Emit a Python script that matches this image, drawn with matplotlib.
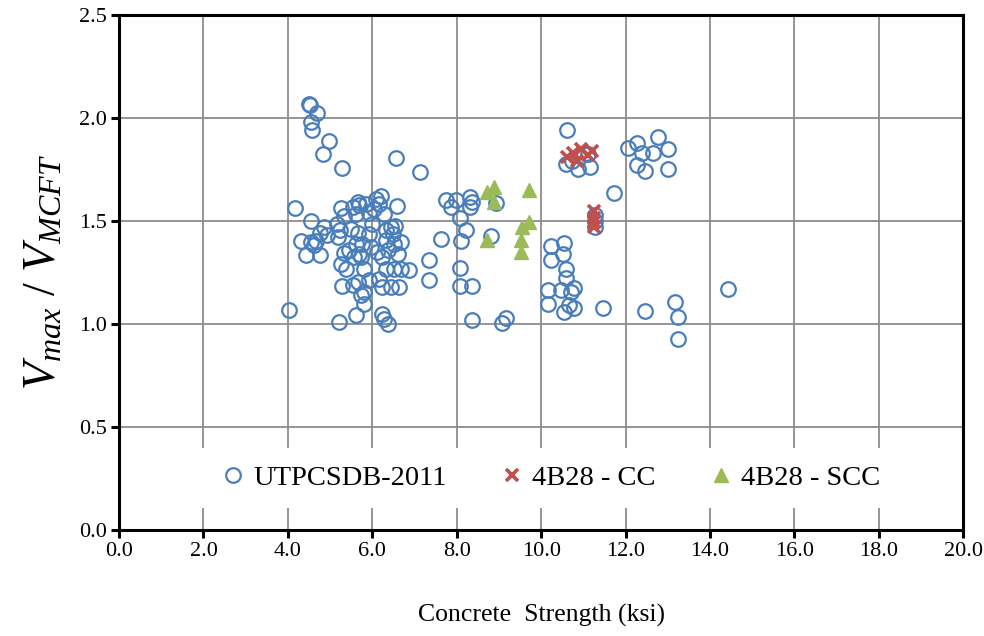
import matplotlib
matplotlib.use("Agg")
import matplotlib.pyplot as plt

plt.rcParams['font.family'] = ['Liberation Serif', 'DejaVu Serif']
plt.rcParams['mathtext.fontset'] = 'custom'
plt.rcParams['mathtext.rm'] = 'Liberation Serif'
plt.rcParams['mathtext.it'] = 'Liberation Serif:italic'

# UTPCSDB-2011 database (concrete strength ksi, Vmax/VMCFT)
utp_x = [4.02, 4.16, 4.32, 4.42, 4.54, 4.62, 4.66, 4.50, 4.53, 4.70, 4.54, 4.58,
         4.97, 4.83, 5.27, 6.57, 4.55, 4.85, 4.77, 4.93, 4.77, 5.25, 5.53, 5.33,
         5.17, 5.23, 5.49, 5.19, 5.33, 5.45, 5.57, 5.25, 5.37, 5.29, 5.53, 5.21,
         5.61, 5.65, 5.68, 5.84, 6.08, 6.20, 6.16, 6.03, 6.28, 6.58, 5.61, 5.92,
         5.98, 6.44, 6.53, 6.32, 5.65, 5.92, 6.48, 6.67, 6.32, 6.52, 5.61, 5.76,
         5.96, 6.12, 6.36, 5.68, 6.60, 6.24, 5.72, 5.80, 6.32, 6.52, 6.67, 6.87,
         5.65, 5.92, 6.16, 6.24, 6.44, 6.63, 5.80, 5.72, 5.80, 6.24, 6.28, 6.36,
         7.13, 7.35, 7.35, 7.62, 7.74, 7.86, 7.98, 8.32, 8.35, 8.32, 8.08, 8.22,
         8.10, 8.80, 8.93, 8.08, 8.08, 8.35, 8.35, 9.07, 9.17,
         10.24, 10.55, 10.52, 10.24, 10.58, 10.58, 10.17, 10.48, 10.78, 10.71,
         10.17, 10.55, 10.67, 10.78, 11.47, 12.45, 13.17, 13.25, 13.25, 14.43,
         11.27, 11.27, 11.27, 10.61, 12.06, 12.26, 12.39, 12.65, 12.76, 13.01,
         12.27, 12.45, 13.01, 11.72, 10.59, 10.87, 11.15, 11.12, 10.74]
utp_y = [1.065, 1.563, 1.401, 1.332, 1.396, 1.380, 1.401, 2.068, 2.060, 2.021, 1.977, 1.940,
         1.885, 1.824, 1.754, 1.803, 1.498, 1.469, 1.440, 1.429, 1.332, 1.563, 1.566, 1.521,
         1.485, 1.456, 1.461, 1.421, 1.343, 1.356, 1.324, 1.292, 1.267, 1.183, 1.186, 1.009,
         1.041, 1.590, 1.574, 1.582, 1.606, 1.622, 1.582, 1.558, 1.534, 1.569, 1.534, 1.537,
         1.485, 1.469, 1.472, 1.453, 1.440, 1.437, 1.437, 1.396, 1.404, 1.388, 1.388, 1.388,
         1.372, 1.348, 1.356, 1.340, 1.340, 1.324, 1.324, 1.267, 1.267, 1.267, 1.267, 1.259,
         1.202, 1.211, 1.219, 1.178, 1.178, 1.178, 1.154, 1.138, 1.098, 1.049, 1.025, 1.001,
         1.735, 1.307, 1.211, 1.409, 1.601, 1.566, 1.601, 1.614, 1.590, 1.566, 1.512, 1.456,
         1.400, 1.424, 1.585, 1.272, 1.182, 1.183, 1.020, 1.004, 1.030,
         1.375, 1.391, 1.340, 1.308, 1.267, 1.224, 1.166, 1.162, 1.173, 1.154,
         1.098, 1.057, 1.090, 1.074, 1.078, 1.061, 1.106, 1.033, 0.928, 1.170,
         1.469, 1.500, 1.530, 1.940, 1.853, 1.878, 1.827, 1.829, 1.905, 1.848,
         1.768, 1.743, 1.750, 1.633, 1.776, 1.752, 1.759, 1.826, 1.792]

# 4B28 - CC specimens
cc_x = [10.60, 10.75, 10.85, 10.95, 11.10, 11.20, 11.25, 11.25, 11.25, 11.25]
cc_y = [1.810, 1.830, 1.790, 1.850, 1.820, 1.840, 1.545, 1.515, 1.495, 1.470]

# 4B28 - SCC specimens
scc_x = [8.72, 8.89, 8.88, 9.71, 8.72, 9.71, 9.55, 9.52, 9.51]
scc_y = [1.638, 1.663, 1.590, 1.651, 1.408, 1.493, 1.469, 1.404, 1.348]

fig = plt.figure(figsize=(9.84, 6.36), dpi=100)
ax = fig.add_axes([0.121, 0.167, 0.858, 0.81])

ax.plot(utp_x, utp_y, 'o', ls='none', ms=10.5, mfc='none', mec='#4A7EBB', mew=1.6,
        label='UTPCSDB-2011', zorder=3)
ax.plot(cc_x, cc_y, 'x', ls='none', ms=9, mec='#C0504D', mew=2.6,
        label='4B28 - CC', zorder=4)
ax.plot(scc_x, scc_y, '^', ls='none', ms=10.5, mfc='#9BBB59', mec='#9BBB59',
        label='4B28 - SCC', zorder=4)

ax.set_xlim(0, 20)
ax.set_ylim(0, 2.5)
ax.set_xticks([i * 2.0 for i in range(11)])
ax.set_yticks([i * 0.5 for i in range(6)])
ax.xaxis.set_major_formatter(matplotlib.ticker.FormatStrFormatter('%.1f'))
ax.yaxis.set_major_formatter(matplotlib.ticker.FormatStrFormatter('%.1f'))
ax.grid(True, color='#8c8c8c', lw=1.3)
ax.set_axisbelow(True)
for s in ax.spines.values():
    s.set_linewidth(2.2)
    s.set_color('black')
ax.tick_params(direction='out', length=6, width=2.2, labelsize=16, pad=3)

ax.set_xlabel('Concrete  Strength (ksi)', fontsize=18.5, labelpad=31)
ax.set_ylabel(r'$V_{max}$ / $V_{MCFT}$', fontsize=33, labelpad=9)

leg = ax.legend(loc='center', bbox_to_anchor=(0.51, 0.1), ncol=3, fontsize=20.5,
                frameon=True, fancybox=False, framealpha=1, edgecolor='none',
                handletextpad=0.2, columnspacing=1.8, borderpad=0.6,
                handlelength=1.0)

fig.savefig('out.png', dpi=100)
